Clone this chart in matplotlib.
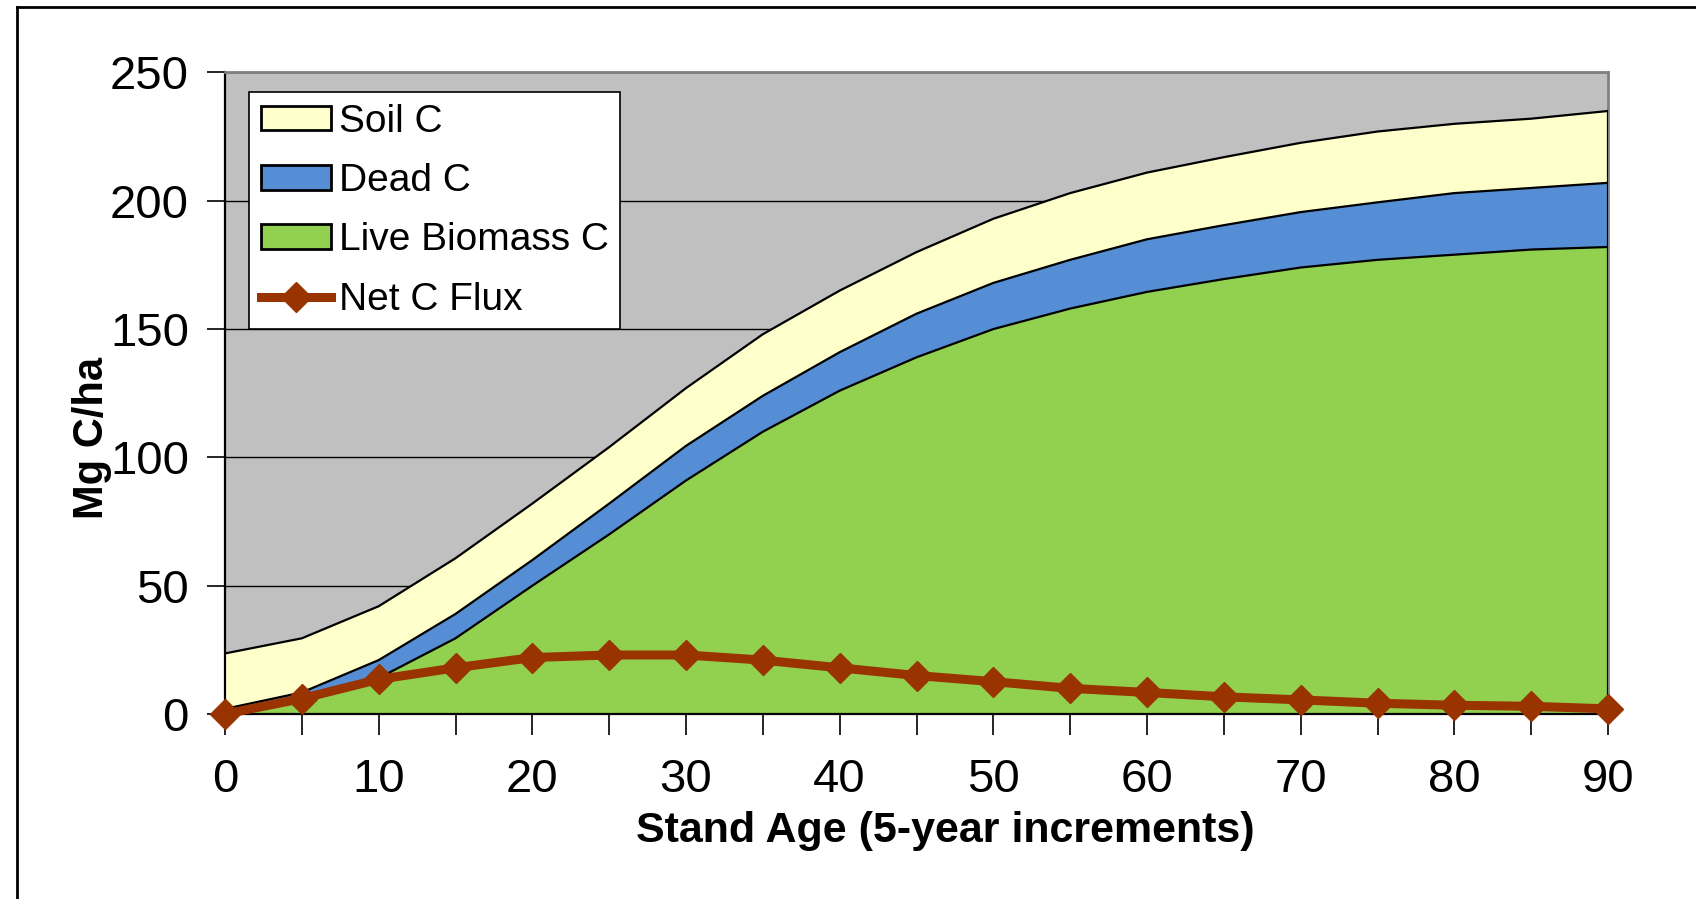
import numpy as np
import matplotlib.pyplot as plt
from matplotlib.patches import Patch
from matplotlib.lines import Line2D

plt.rcParams['font.family'] = ['Liberation Sans', 'DejaVu Sans']

# stand age (5-year increments)
age = [0, 5, 10, 15, 20, 25, 30, 35, 40, 45, 50, 55, 60, 65, 70, 75, 80, 85, 90]
# Mg C/ha
live_c = [0, 6, 14, 29.5, 50, 70, 91, 110, 126, 139, 150, 158, 164.5, 169.5, 174, 177, 179, 181, 182]
dead_c = [2, 2.4, 7, 9.5, 10, 12, 13.5, 14, 15, 17, 18, 19, 20.5, 21, 21.6, 22.4, 24, 24, 25]
soil_c = [21.6, 21.1, 21, 21.7, 22, 22, 22.5, 24, 24, 24, 25, 26, 26, 26.5, 27, 27.6, 27, 27, 28]
net_flux = [0, 6, 13.5, 18, 22, 23, 23, 21, 18, 15, 12.6, 10, 8.4, 6.7, 5.5, 4.2, 3.4, 3, 2]

fig = plt.figure(figsize=(16.96, 8.99), dpi=100)
ax = fig.add_axes([225 / 1696, 1 - 714 / 899, 1383 / 1696, 641.5 / 899])
ax.set_facecolor('#C0C0C0')

x = np.array(age)
live = np.array(live_c)
dead_top = live + np.array(dead_c)
soil_top = dead_top + np.array(soil_c)

ax.fill_between(x, 0, live, facecolor='#92D050', edgecolor='none', zorder=2)
ax.fill_between(x, live, dead_top, facecolor='#558ED5', edgecolor='none', zorder=2)
ax.fill_between(x, dead_top, soil_top, facecolor='#FFFFCC', edgecolor='none', zorder=2)
for top in (live, dead_top, soil_top):
    ax.plot(x, top, color='black', lw=1.6, zorder=3)
ax.plot([90, 90], [0, soil_top[-1]], color='black', lw=1.6, zorder=3)

ax.plot(x, net_flux, color='#993300', lw=6.5, marker='D', markersize=15,
        markeredgecolor='#993300', zorder=5, clip_on=False)

ax.set_xlim(0, 90)
ax.set_ylim(0, 250)
ax.set_yticks(range(0, 251, 50))
ax.set_xticks(range(0, 91, 10))
ax.set_xticks(range(0, 91, 5), minor=True)
ax.yaxis.grid(True, color='black', lw=1.0)
ax.set_axisbelow(True)

ax.tick_params(axis='y', which='major', length=13, width=1.2, pad=13, labelsize=34)
ax.tick_params(axis='x', which='major', length=15, width=1.2, pad=17, labelsize=34)
ax.tick_params(axis='x', which='minor', length=15, width=1.2)

for s in ('top', 'right'):
    ax.spines[s].set_color('#808080')
    ax.spines[s].set_linewidth(2)
for s in ('left', 'bottom'):
    ax.spines[s].set_color('black')
    ax.spines[s].set_linewidth(1.6)
ax.spines['bottom'].set_zorder(4)

fig.text(945 / 1696, 1 - 831 / 899, 'Stand Age (5-year increments)', ha='center', va='center',
         fontsize=31, fontweight='bold')
fig.text(92 / 1696, 1 - 438 / 899, 'Mg C/ha', rotation=90, ha='center', va='center',
         fontsize=30, fontweight='bold')

handles = [
    Patch(facecolor='#FFFFCC', edgecolor='black', lw=2),
    Patch(facecolor='#558ED5', edgecolor='black', lw=2),
    Patch(facecolor='#92D050', edgecolor='black', lw=2),
    Line2D([], [], color='#993300', lw=6.5, marker='D', markersize=15),
]
labels = ['Soil C', 'Dead C', 'Live Biomass C', 'Net C Flux']
leg = ax.legend(handles, labels, loc='upper left', bbox_to_anchor=(0.0174, 0.9696),
                borderaxespad=0, fontsize=28, frameon=True, fancybox=False,
                edgecolor='black', framealpha=1, handlelength=1.8, handleheight=0.6,
                handletextpad=0.2, labelspacing=0.6, borderpad=0.3)
leg.get_frame().set_linewidth(1.2)
leg.set_zorder(10)

# outer chart frame (only left and top edges visible)
fig.add_artist(Line2D([17 / 1696, 17 / 1696], [0, 1 - 7 / 899], color='black', lw=2))
fig.add_artist(Line2D([17 / 1696, 1], [1 - 7 / 899, 1 - 7 / 899], color='black', lw=2))

fig.savefig('out.png', dpi=100)
